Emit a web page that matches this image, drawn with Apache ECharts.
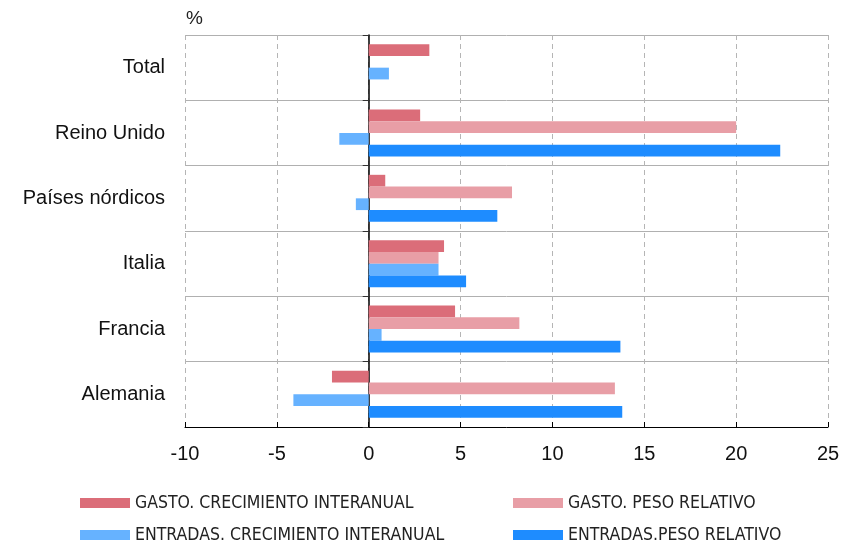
<!DOCTYPE html>
<html>
<head>
<meta charset="utf-8">
<script src="https://cdn.jsdelivr.net/npm/echarts@6/dist/echarts.min.js"></script>
<style>
  html, body { margin: 0; padding: 0; background: #fff; }
  #chart { width: 843px; height: 543px; }
</style>
</head>
<body>
<div id="chart"></div>
<script>
// categorías (de arriba a abajo)
const categories = ['Total', 'Reino Unido', 'Países nórdicos', 'Italia', 'Francia', 'Alemania']
// valores en %
const gastoCrecimiento = [3.3, 2.8, 0.9, 4.1, 4.7, -2.0]
const gastoPeso = [null, 20.0, 7.8, 3.8, 8.2, 13.4]
const entradasCrecimiento = [1.1, -1.6, -0.7, 3.8, 0.7, -4.1]
const entradasPeso = [null, 22.4, 7.0, 5.3, 13.7, 13.8]

const labelFont = 'Helvetica, Arial, "Liberation Sans", sans-serif'
const legendFont = '"Liberation Sans Narrow", "Arial Narrow", "DejaVu Sans Condensed", sans-serif'

const myChart = echarts.init(document.getElementById('chart'))

function bar(name, data, color) {
  return {
    name: name,
    type: 'bar',
    data: data,
    barWidth: '18%',
    barGap: '0%',
    itemStyle: { color: color },
    emphasis: { disabled: true }
  }
}

// una leyenda por elemento, en dos columnas
function legendItem(name, left, top) {
  return {
    left: left,
    top: top,
    itemWidth: 50,
    itemHeight: 10,
    icon: 'rect',
    data: [name],
    textStyle: { fontFamily: legendFont, fontSize: 17.5, color: '#222', padding: [0, 0, 0, 0] }
  }
}

myChart.setOption({
  animation: false,
  graphic: [
    {
      type: 'text',
      left: 186,
      top: 9,
      style: { text: '%', font: '19px ' + labelFont, fill: '#222' }
    }
  ],
  grid: {
    left: 185,
    right: 15,
    top: 35,
    bottom: 116
  },
  legend: [
    legendItem('GASTO. CRECIMIENTO INTERANUAL', 75, 489),
    legendItem('GASTO. PESO RELATIVO', 508, 489),
    legendItem('ENTRADAS. CRECIMIENTO INTERANUAL', 75, 521),
    legendItem('ENTRADAS.PESO RELATIVO', 508, 521)
  ],
  xAxis: {
    type: 'value',
    min: -10,
    max: 25,
    interval: 5,
    axisLine: { show: true, lineStyle: { color: '#000', width: 1 } },
    axisTick: { show: true, inside: true, length: 5, lineStyle: { color: '#000' } },
    axisLabel: { fontFamily: labelFont, fontSize: 20, color: '#111', margin: 17 },
    splitLine: { show: true, lineStyle: { color: '#b5b5b5', type: [5, 4] } }
  },
  yAxis: {
    type: 'category',
    inverse: true,
    data: categories,
    axisLine: { show: true, onZero: true, lineStyle: { color: '#000', width: 1.5 } },
    axisTick: { show: true, length: 6, lineStyle: { color: '#333' } },
    axisLabel: { fontFamily: labelFont, fontSize: 20, color: '#111', margin: 20 },
    splitLine: { show: true, lineStyle: { color: '#b0b0b0', type: 'solid' } }
  },
  series: [
    bar('GASTO. CRECIMIENTO INTERANUAL', gastoCrecimiento, '#db6d79'),
    bar('GASTO. PESO RELATIVO', gastoPeso, '#e89ea6'),
    bar('ENTRADAS. CRECIMIENTO INTERANUAL', entradasCrecimiento, '#66b2ff'),
    bar('ENTRADAS.PESO RELATIVO', entradasPeso, '#1e8cff')
  ]
})
</script>
</body>
</html>
